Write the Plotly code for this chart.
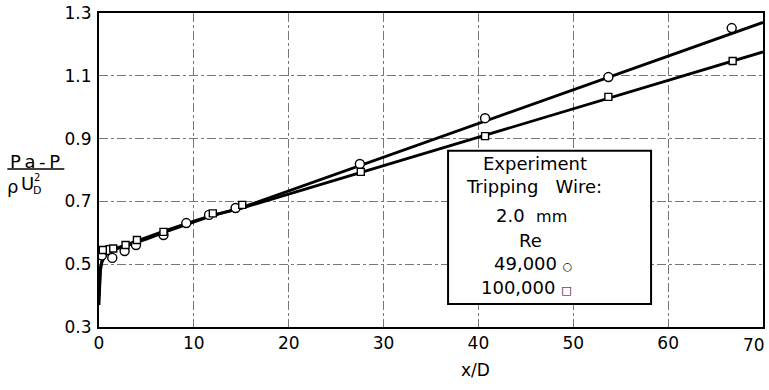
import plotly.graph_objects as go

# Measured points, Re = 49,000 (circles)
x_49000 = [0.3, 0.9, 1.4, 2.7, 3.9, 6.8, 9.2, 11.6, 14.4, 27.5, 40.7, 53.7, 66.7]
y_49000 = [0.528, 0.545, 0.52, 0.542, 0.561, 0.593, 0.631, 0.657, 0.679, 0.819, 0.965, 1.096, 1.252]

# Measured points, Re = 100,000 (squares)
x_100000 = [0.4, 1.5, 2.8, 4.0, 6.8, 12.0, 15.1, 27.6, 40.7, 53.7, 66.8]
y_100000 = [0.545, 0.55, 0.561, 0.577, 0.603, 0.662, 0.689, 0.794, 0.908, 1.033, 1.147]

# Fitted curves
curve_x = [0, 0.05, 0.15, 0.3, 0.6, 1, 2, 3, 5, 7, 10, 12, 15, 70]
curve_49000 = [0.37, 0.44, 0.48, 0.505, 0.525, 0.537, 0.55, 0.56, 0.58, 0.603, 0.635, 0.655, 0.68, 1.27]
curve_100000 = [0.40, 0.46, 0.49, 0.51, 0.53, 0.54, 0.553, 0.563, 0.585, 0.607, 0.637, 0.656, 0.678, 1.176]

x_ticks = [0, 10, 20, 30, 40, 50, 60, 70]
x_tick_text = ["0", "10", "20", "30", "40", "50", "60", ""]
last_x_label = "70"
y_ticks = [0.3, 0.5, 0.7, 0.9, 1.1, 1.3]
y_tick_text = ["0.3", "0.5", "0.7", "0.9", "1.1", "1.3"]

FONT = "DejaVu Sans"

fig = go.Figure()
fig.add_trace(go.Scatter(x=curve_x, y=curve_49000, mode="lines",
                         line=dict(color="black", width=2.8), hoverinfo="skip"))
fig.add_trace(go.Scatter(x=curve_x, y=curve_100000, mode="lines",
                         line=dict(color="black", width=2.8), hoverinfo="skip"))
fig.add_trace(go.Scatter(x=x_49000, y=y_49000, mode="markers",
                         marker=dict(symbol="circle", size=9, color="white",
                                     line=dict(color="black", width=1.4))))
fig.add_trace(go.Scatter(x=x_100000, y=y_100000, mode="markers",
                         marker=dict(symbol="square", size=7, color="white",
                                     line=dict(color="black", width=1.4))))

# Legend box
fig.add_shape(type="rect", xref="x", yref="y", x0=36.8, x1=58.2, y0=0.373, y1=0.861,
              fillcolor="white", line=dict(color="black", width=2), layer="above")


def note(x, y, text, size, xref="paper", yref="paper", xanchor="center"):
    fig.add_annotation(x=x, y=y, xref=xref, yref=yref, text=text, showarrow=False,
                       xanchor=xanchor, yanchor="middle",
                       font=dict(family=FONT, size=size, color="black"))


box_lines = [("Experiment", 0.822, 46.0),
             ("Tripping   Wire:", 0.746, 45.9),
             ("2.0  <span style='font-size:16px'>mm</span>", 0.654, 45.6),
             ("Re", 0.577, 45.5),
             ("49,000 <span style='font-size:11px'>○</span>", 0.501, 45.7),
             ("100,000 <span style='font-size:11px'>□</span>", 0.427, 45.1)]
for txt, yy, xx in box_lines:
    note(xx, yy, txt, 18, xref="x", yref="y")


# y-axis label as a fraction
def px2paper(px, py):
    return (px - 98.7) / 664.3, (327 - py) / 314


ax, ay = px2paper(35, 161)
note(ax, ay, "P\u2009a\u2009-\u2009P", 18)
lx0, ly = px2paper(7, 169)
lx1, _ = px2paper(64, 169)
fig.add_shape(type="line", xref="paper", yref="paper", x0=lx0, x1=lx1, y0=ly, y1=ly,
              line=dict(color="black", width=1.5))
rx, ry = px2paper(12, 186)
note(rx, ry, "ρ", 18)
ux, uy = px2paper(27, 183)
note(ux, uy, "U", 18)
sx, sy = px2paper(37, 177)
note(sx, sy, "2", 10)
dx, dy = px2paper(37, 190)
note(dx, dy, "D", 11)

# last x tick label, pulled inside the page edge as in the original
tx, ty = px2paper(767, 345)
note(tx, ty, last_x_label, 17, xanchor="right")

# x-axis label
xx_, xy_ = px2paper(475, 370)
note(xx_, xy_, "x/D", 17)

fig.update_layout(
    width=769, height=390,
    margin=dict(l=99, r=6, t=13, b=63),
    paper_bgcolor="white", plot_bgcolor="white",
    showlegend=False,
    font=dict(family=FONT, size=17, color="black"),
    xaxis=dict(range=[0, 70], tickvals=x_ticks, ticktext=x_tick_text, showline=True,
               linecolor="black", linewidth=2, mirror=True, showgrid=True,
               gridcolor="#777", gridwidth=1, griddash="dashdot", zeroline=False,
               ticks="", automargin=False, ticklabeloverflow="allow",
               tickfont=dict(family=FONT, size=17, color="black")),
    yaxis=dict(range=[0.3, 1.3], tickvals=y_ticks, ticktext=y_tick_text, showline=True,
               linecolor="black", linewidth=2, mirror=True, showgrid=True,
               gridcolor="#777", gridwidth=1, griddash="dashdot", zeroline=False,
               ticks="", automargin=False, ticklabelstandoff=2,
               tickfont=dict(family=FONT, size=17, color="black")),
)

fig.write_html("out.html", config={"displayModeBar": False},
               post_script="document.body.style.margin='0';document.body.style.overflow='hidden';")
